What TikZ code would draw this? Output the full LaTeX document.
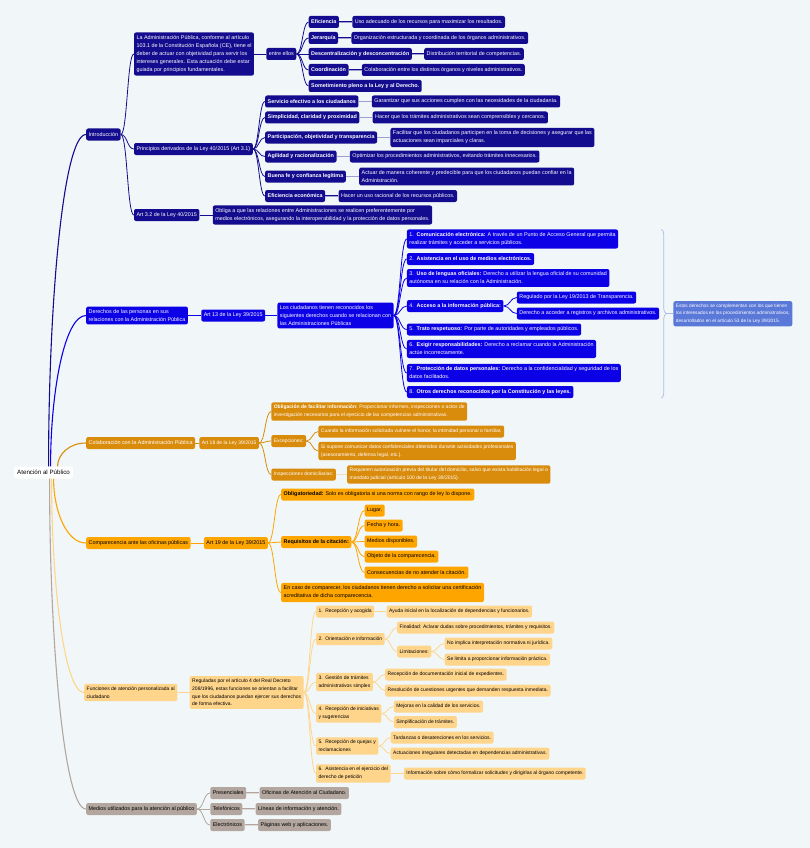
\documentclass[tikz,border=0pt]{standalone}
\usepackage{fontspec}
\setmainfont{Liberation Sans}
\usepackage{tikz}
\usetikzlibrary{positioning,calc,decorations.pathreplacing}

\definecolor{bgpage}{HTML}{F1F7F8}
\definecolor{navyc}{HTML}{140C8E}
\definecolor{bluec}{HTML}{0C00E6}
\definecolor{sumc}{HTML}{5A78D8}
\definecolor{bracec}{HTML}{A9BBE8}
\definecolor{darkorc}{HTML}{D98B0C}
\definecolor{orc}{HTML}{FFA500}
\definecolor{lightorc}{HTML}{FFD58C}
\definecolor{greyc}{HTML}{B3A69E}

\begin{document}
\begin{tikzpicture}[x=1pt, y=-1pt,
    box/.style={rectangle, rounded corners=2pt, inner xsep=2.5pt, inner ysep=3pt, minimum height=12pt, align=left, anchor=west, font=\fontsize{5.4}{8}\selectfont},
    smallfont/.style={font=\fontsize{5}{7.7}\selectfont},
    rootbox/.style={box, fill=white, text=black, inner xsep=3pt, font=\fontsize{6.2}{8}\selectfont},
    navybox/.style={box, fill=navyc, text=white},
    bluebox/.style={box, fill=bluec, text=white},
    sumbox/.style={box, fill=sumc, text=white, font=\fontsize{4.75}{7.4}\selectfont},
    darkbox/.style={box, fill=darkorc, text=white},
    orbox/.style={box, fill=orc, text=black},
    lightbox/.style={box, fill=lightorc, text=black, smallfont},
    greybox/.style={box, fill=greyc, text=black},
    rootlink/.style={line width=1.1pt, to path={let \p1=(\tikztostart), \p2=(\tikztotarget) in .. controls (\x1,{0.5*\y1+0.5*\y2}) and ({0.6*\x1+0.4*\x2},\y2) .. (\tikztotarget)}},
    link/.style={line width=0.8pt, to path={let \p1=(\tikztostart), \p2=(\tikztotarget) in .. controls ({0.5*\x1+0.5*\x2},\y1) and ({0.5*\x1+0.5*\x2},\y2) .. (\tikztotarget)}},
    attr/.style={line width=0.5pt, double distance=0.9pt}
]
    \useasboundingbox (0,0) rectangle (810,848);
    \fill[bgpage] (0,0) rectangle (810,848);

    \node[rootbox] (root) at (14,472.5) {Atención al Público};

    % Introducción
    \node[navybox] (intro) at (86,134.5) {Introducción};
    \node[navybox, right=13pt of intro, yshift=80.5pt] (adm) {La Administración Pública, conforme al artículo\\103.1 de la Constitución Española (CE), tiene el\\deber de actuar con objetividad para servir los\\intereses generales. Esta actuación debe estar\\guiada por principios fundamentales.};
    \node[navybox, right=12pt of adm] (ent) {entre ellos};
    \node[navybox, right=12pt of ent, yshift=32pt] (efi) {\textbf{Eficiencia}};
    \node[navybox, right=13pt of efi] (efid) {Uso adecuado de los recursos para maximizar los resultados.};
    \node[navybox, right=12pt of ent, yshift=16pt] (jer) {\textbf{Jerarquía}};
    \node[navybox, right=13pt of jer] (jerd) {Organización estructurada y coordinada de los órganos administrativos.};
    \node[navybox, right=12pt of ent] (desc) {\textbf{Descentralización y desconcentración}};
    \node[navybox, right=12pt of desc] (descd) {Distribución territorial de competencias.};
    \node[navybox, right=12pt of ent, yshift=-16pt] (coor) {\textbf{Coordinación}};
    \node[navybox, right=13pt of coor] (coord) {Colaboración entre los distintos órganos y niveles administrativos.};
    \node[navybox, right=12pt of ent, yshift=-32pt] (som) {\textbf{Sometimiento pleno a la Ley y al Derecho.}};

    \node[navybox, right=13pt of intro, yshift=-14.5pt] (prin) {Principios derivados de la Ley 40/2015 (Art 3.1)};
    \node[navybox, right=12pt of prin, yshift=47.5pt] (p1) {\textbf{Servicio efectivo a los ciudadanos}};
    \node[navybox, right=13pt of p1] (p1d) {Garantizar que sus acciones cumplen con las necesidades de la ciudadanía.};
    \node[navybox, right=12pt of prin, yshift=31.5pt] (p2) {\textbf{Simplicidad, claridad y proximidad}};
    \node[navybox, right=13pt of p2] (p2d) {Hacer que los trámites administrativos sean comprensibles y cercanos.};
    \node[navybox, right=12pt of prin, yshift=11.5pt] (p3) {\textbf{Participación, objetividad y transparencia}};
    \node[navybox, right=13pt of p3] (p3d) {Facilitar que los ciudadanos participen en la toma de decisiones y asegurar que las\\actuaciones sean imparciales y claras.};
    \node[navybox, right=12pt of prin, yshift=-7.5pt] (p4) {\textbf{Agilidad y racionalización}};
    \node[navybox, right=13pt of p4] (p4d) {Optimizar los procedimientos administrativos, evitando trámites innecesarios.};
    \node[navybox, right=12pt of prin, yshift=-27.5pt] (p5) {\textbf{Buena fe y confianza legítima}};
    \node[navybox, right=13pt of p5] (p5d) {Actuar de manera coherente y predecible para que los ciudadanos puedan confiar en la\\Administración.};
    \node[navybox, right=12pt of prin, yshift=-47pt] (p6) {\textbf{Eficiencia económica}};
    \node[navybox, right=13pt of p6] (p6d) {Hacer un uso racional de los recursos públicos.};

    \node[navybox, right=13pt of intro, yshift=-80.5pt] (a32) {Art 3.2 de la Ley 40/2015};
    \node[navybox, right=13pt of a32] (a32d) {Obliga a que las relaciones entre Administraciones se realicen preferentemente por\\medios electrónicos, asegurando la interoperabilidad y la protección de datos personales.};

    % Derechos
    \node[bluebox] (der) at (86,315.5) {Derechos de las personas en sus\\relaciones con la Administración Pública};
    \node[bluebox, right=13pt of der] (a13) {Art 13 de la Ley 39/2015};
    \node[bluebox, right=12pt of a13] (ciu) {Los ciudadanos tienen reconocidos los\\siguientes derechos cuando se relacionan con\\las Administraciones Públicas};
    \node[bluebox, right=13pt of ciu, yshift=76.5pt] (d1) {1.\enspace\textbf{Comunicación electrónica:} A través de un Punto de Acceso General que permita\\realizar trámites y acceder a servicios públicos.};
    \node[bluebox, right=13pt of ciu, yshift=56.5pt] (d2) {2.\enspace\textbf{Asistencia en el uso de medios electrónicos.}};
    \node[bluebox, right=13pt of ciu, yshift=37.5pt] (d3) {3.\enspace\textbf{Uso de lenguas oficiales:} Derecho a utilizar la lengua oficial de su comunidad\\autónoma en su relación con la Administración.};
    \node[bluebox, right=13pt of ciu, yshift=9.5pt] (d4) {4.\enspace\textbf{Acceso a la información pública:}};
    \node[bluebox, right=13pt of d4, yshift=8.5pt] (d4a) {Regulado por la Ley 19/2013 de Transparencia.};
    \node[bluebox, right=13pt of d4, yshift=-7.5pt] (d4b) {Derecho a acceder a registros y archivos administrativos.};
    \node[bluebox, right=13pt of ciu, yshift=-14pt] (d5) {5.\enspace\textbf{Trato respetuoso:} Por parte de autoridades y empleados públicos.};
    \node[bluebox, right=13pt of ciu, yshift=-33.5pt] (d6) {6.\enspace\textbf{Exigir responsabilidades:} Derecho a reclamar cuando la Administración\\actúe incorrectamente.};
    \node[bluebox, right=13pt of ciu, yshift=-57.5pt] (d7) {7.\enspace\textbf{Protección de datos personales:} Derecho a la confidencialidad y seguridad de los\\datos facilitados.};
    \node[bluebox, right=13pt of ciu, yshift=-76.5pt] (d8) {8.\enspace\textbf{Otros derechos reconocidos por la Constitución y las leyes.}};

    \coordinate (brtop) at ([xshift=2pt]d4b.east |- d1.north);
    \coordinate (brbot) at ([xshift=2pt]d4b.east |- d8.south);
    \coordinate (brtip) at ($(brtop)!0.5!(brbot)+(5pt,0)$);
    \node[sumbox, right=7pt of brtip] (sum) {Estos derechos se complementan con los que tienen\\los interesados en los procedimientos administrativos,\\desarrollados en el artículo 53 de la Ley 39/2015.};

    % Colaboración
    \node[darkbox] (col) at (86,443) {Colaboración con la Administración Pública};
    \node[darkbox, smallfont, right=4pt of col] (a18) {Art 18 de la Ley 39/2015};
    \node[darkbox, smallfont, right=12pt of a18, yshift=31.5pt] (obl) {\textbf{Obligación de facilitar información}: Proporcionar informes, inspecciones o actos de\\investigación necesarios para el ejercicio de las competencias administrativas.};
    \node[darkbox, smallfont, right=12pt of a18, yshift=2pt] (exc) {Excepciones:};
    \node[darkbox, smallfont, right=12pt of exc, yshift=9.5pt] (exc1) {Cuando la información solicitada vulnere el honor, la intimidad personal o familiar.};
    \node[darkbox, smallfont, right=12pt of exc, yshift=-10pt] (exc2) {Si supone comunicar datos confidenciales obtenidos durante actividades profesionales\\(asesoramiento, defensa legal, etc.).};
    \node[darkbox, smallfont, right=12pt of a18, yshift=-31.5pt] (insp) {Inspecciones domiciliarias:};
    \node[darkbox, smallfont, right=11pt of insp] (inspd) {Requieren autorización previa del titular del domicilio, salvo que exista habilitación legal o\\mandato judicial (artículo 100 de la Ley 39/2015).};

    % Comparecencia
    \node[orbox] (com) at (86,543) {Comparecencia ante las oficinas públicas};
    \node[orbox, right=13pt of com] (a19) {Art 19 de la Ley 39/2015};
    \node[orbox, right=13pt of a19, yshift=48.5pt] (obg) {\textbf{Obligatoriedad:} Solo es obligatoria si una norma con rango de ley lo dispone.};
    \node[orbox, right=13pt of a19, yshift=1pt] (req) {\textbf{Requisitos de la citación:}};
    \node[orbox, right=13pt of req, yshift=31.5pt] (r1) {Lugar.};
    \node[orbox, right=13pt of req, yshift=16.5pt] (r2) {Fecha y hora.};
    \node[orbox, right=13pt of req, yshift=0.5pt] (r3) {Medios disponibles.};
    \node[orbox, right=13pt of req, yshift=-14.5pt] (r4) {Objeto de la comparecencia.};
    \node[orbox, right=13pt of req, yshift=-30.5pt] (r5) {Consecuencias de no atender la citación.};
    \node[orbox, right=13pt of a19, yshift=-49.5pt] (cert) {En caso de comparecer, los ciudadanos tienen derecho a solicitar una certificación\\acreditativa de dicha comparecencia.};

    % Funciones
    \node[lightbox] (fun) at (84,692.5) {Funciones de atención personalizada al\\ciudadano};
    \node[lightbox, right=12pt of fun] (reg) {Reguladas por el artículo 4 del Real Decreto\\208/1996, estas funciones se orientan a facilitar\\que los ciudadanos puedan ejercer sus derechos\\de forma efectiva.};
    \node[lightbox, right=12pt of reg, yshift=81pt] (f1) {1.\enspace Recepción y acogida};
    \node[lightbox, right=12pt of f1] (f1a) {Ayuda inicial en la localización de dependencias y funcionarios.};
    \node[lightbox, right=12pt of reg, yshift=53.5pt] (f2) {2.\enspace Orientación e información};
    \node[lightbox, right=12pt of f2, yshift=11.5pt] (f2a) {Finalidad: Aclarar dudas sobre procedimientos, trámites y requisitos.};
    \node[lightbox, right=12pt of f2, yshift=-12.5pt] (lim) {Limitaciones:};
    \node[lightbox, right=13pt of lim, yshift=8pt] (l1) {No implica interpretación normativa ni jurídica.};
    \node[lightbox, right=13pt of lim, yshift=-8pt] (l2) {Se limita a proporcionar información práctica.};
    \node[lightbox, right=12pt of reg, yshift=10.5pt] (f3) {3.\enspace Gestión de trámites\\administrativos simples};
    \node[lightbox, right=12pt of f3, yshift=7.5pt] (f3a) {Recepción de documentación inicial de expedientes.};
    \node[lightbox, right=12pt of f3, yshift=-8.5pt] (f3b) {Resolución de cuestiones urgentes que demanden respuesta inmediata.};
    \node[lightbox, right=12pt of reg, yshift=-21pt] (f4) {4.\enspace Recepción de iniciativas\\y sugerencias};
    \node[lightbox, right=12pt of f4, yshift=7pt] (f4a) {Mejoras en la calidad de los servicios.};
    \node[lightbox, right=12pt of f4, yshift=-8.5pt] (f4b) {Simplificación de trámites.};
    \node[lightbox, right=12pt of reg, yshift=-53.5pt] (f5) {5.\enspace Recepción de quejas y\\reclamaciones};
    \node[lightbox, right=12pt of f5, yshift=8.5pt] (f5a) {Tardanzas o desatenciones en los servicios.};
    \node[lightbox, right=12pt of f5, yshift=-7.5pt] (f5b) {Actuaciones irregulares detectadas en dependencias administrativas.};
    \node[lightbox, right=12pt of reg, yshift=-81pt] (f6) {6.\enspace Asistencia en el ejercicio del\\derecho de petición};
    \node[lightbox, right=13pt of f6] (f6a) {Información sobre cómo formalizar solicitudes y dirigirlas al órgano competente.};

    % Medios
    \node[greybox] (med) at (86,809) {Medios utilizados para la atención al público};
    \node[greybox, right=13pt of med, yshift=16pt] (pre) {Presenciales};
    \node[greybox, right=13pt of pre] (pred) {Oficinas de Atención al Ciudadano.};
    \node[greybox, right=13pt of med] (tel) {Telefónicos};
    \node[greybox, right=13pt of tel] (teld) {Líneas de información y atención.};
    \node[greybox, right=13pt of med, yshift=-16pt] (ele) {Electrónicos};
    \node[greybox, right=13pt of ele] (eled) {Páginas web y aplicaciones.};

    % connectors
    \draw[navyc, rootlink] ([xshift=5pt]root.north) to (intro.west);
    \draw[bluec, rootlink] ([xshift=7pt]root.north) to (der.west);
    \draw[darkorc, rootlink] ([xshift=14pt]root.north) to (col.west);
    \draw[orc, rootlink] ([xshift=10pt]root.south) to (com.west);
    \draw[lightorc, rootlink] ([xshift=8pt]root.south) to (fun.west);
    \draw[greyc, rootlink] ([xshift=6pt]root.south) to (med.west);

    \draw[navyc, link] (intro.east) to (adm.west);
    \draw[navyc, link] (intro.east) to (prin.west);
    \draw[navyc, link] (intro.east) to (a32.west);
    \draw[navyc, link] (adm.east) to (ent.west);
    \draw[navyc, link] (ent.east) to (efi.west);
    \draw[navyc, link] (ent.east) to (jer.west);
    \draw[navyc, link] (ent.east) to (desc.west);
    \draw[navyc, link] (ent.east) to (coor.west);
    \draw[navyc, link] (ent.east) to (som.west);
    \draw[navyc, attr, double=navyc!40] (efi.east) -- (efid.west);
    \draw[navyc, attr, double=navyc!40] (jer.east) -- (jerd.west);
    \draw[navyc, attr, double=navyc!40] (desc.east) -- (descd.west);
    \draw[navyc, attr, double=navyc!40] (coor.east) -- (coord.west);
    \draw[navyc, link] (prin.east) to (p1.west);
    \draw[navyc, link] (prin.east) to (p2.west);
    \draw[navyc, link] (prin.east) to (p3.west);
    \draw[navyc, link] (prin.east) to (p4.west);
    \draw[navyc, link] (prin.east) to (p5.west);
    \draw[navyc, link] (prin.east) to (p6.west);
    \draw[navyc, attr, double=navyc!40] (p1.east) -- (p1d.west);
    \draw[navyc, attr, double=navyc!40] (p2.east) -- (p2d.west);
    \draw[navyc, attr, double=navyc!40] (p3.east) -- (p3d.west);
    \draw[navyc, attr, double=navyc!40] (p4.east) -- (p4d.west);
    \draw[navyc, attr, double=navyc!40] (p5.east) -- (p5d.west);
    \draw[navyc, attr, double=navyc!40] (p6.east) -- (p6d.west);
    \draw[navyc, link] (a32.east) to (a32d.west);

    \draw[bluec, link] (der.east) to (a13.west);
    \draw[bluec, link] (a13.east) to (ciu.west);
    \draw[bluec, link] (ciu.east) to (d1.west);
    \draw[bluec, link] (ciu.east) to (d2.west);
    \draw[bluec, link] (ciu.east) to (d3.west);
    \draw[bluec, link] (ciu.east) to (d4.west);
    \draw[bluec, link] (ciu.east) to (d5.west);
    \draw[bluec, link] (ciu.east) to (d6.west);
    \draw[bluec, link] (ciu.east) to (d7.west);
    \draw[bluec, link] (ciu.east) to (d8.west);
    \draw[bluec, link] (d4.east) to (d4a.west);
    \draw[bluec, link] (d4.east) to (d4b.west);
    \draw[bracec, line width=0.7pt, decorate, decoration={brace, amplitude=5pt}] (brtop) -- (brbot);
    \draw[bracec, line width=0.7pt] (brtip) -- (sum.west);

    \draw[darkorc, link] (col.east) to (a18.west);
    \draw[darkorc, link] (a18.east) to (obl.west);
    \draw[darkorc, link] (a18.east) to (exc.west);
    \draw[darkorc, link] (a18.east) to (insp.west);
    \draw[darkorc, link] (exc.east) to (exc1.west);
    \draw[darkorc, link] (exc.east) to (exc2.west);
    \draw[darkorc, attr, double=darkorc!30] (insp.east) -- (inspd.west);

    \draw[orc, link] (com.east) to (a19.west);
    \draw[orc, link] (a19.east) to (obg.west);
    \draw[orc, link] (a19.east) to (req.west);
    \draw[orc, link] (a19.east) to (cert.west);
    \draw[orc, link] (req.east) to (r1.west);
    \draw[orc, link] (req.east) to (r2.west);
    \draw[orc, link] (req.east) to (r3.west);
    \draw[orc, link] (req.east) to (r4.west);
    \draw[orc, link] (req.east) to (r5.west);

    \draw[lightorc, link] (fun.east) to (reg.west);
    \draw[lightorc, link] (reg.east) to (f1.west);
    \draw[lightorc, link] (reg.east) to (f2.west);
    \draw[lightorc, link] (reg.east) to (f3.west);
    \draw[lightorc, link] (reg.east) to (f4.west);
    \draw[lightorc, link] (reg.east) to (f5.west);
    \draw[lightorc, link] (reg.east) to (f6.west);
    \draw[lightorc, link] (f1.east) to (f1a.west);
    \draw[lightorc, link] (f2.east) to (f2a.west);
    \draw[lightorc, link] (f2.east) to (lim.west);
    \draw[lightorc, link] (lim.east) to (l1.west);
    \draw[lightorc, link] (lim.east) to (l2.west);
    \draw[lightorc, link] (f3.east) to (f3a.west);
    \draw[lightorc, link] (f3.east) to (f3b.west);
    \draw[lightorc, link] (f4.east) to (f4a.west);
    \draw[lightorc, link] (f4.east) to (f4b.west);
    \draw[lightorc, link] (f5.east) to (f5a.west);
    \draw[lightorc, link] (f5.east) to (f5b.west);
    \draw[lightorc, link] (f6.east) to (f6a.west);

    \draw[greyc, link] (med.east) to (pre.west);
    \draw[greyc, link] (med.east) to (tel.west);
    \draw[greyc, link] (med.east) to (ele.west);
    \draw[greyc, attr, double=greyc!40] (pre.east) -- (pred.west);
    \draw[greyc, attr, double=greyc!40] (tel.east) -- (teld.west);
    \draw[greyc, attr, double=greyc!40] (ele.east) -- (eled.west);
\end{tikzpicture}
\end{document}
